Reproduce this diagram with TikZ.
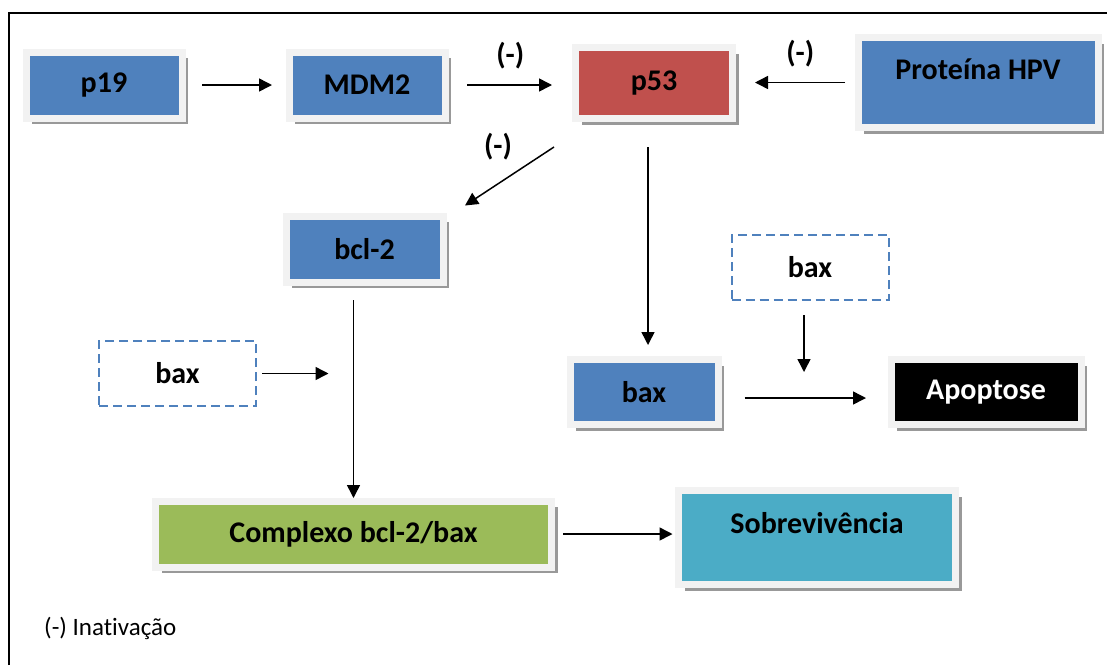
\documentclass[tikz,border=0pt]{standalone}
\usepackage{fontspec}
\setmainfont[Ligatures=NoCommon]{Carlito}
\usepackage{tikz}
\usetikzlibrary{arrows.meta,shadows,positioning}
\definecolor{boxblue}{HTML}{4F81BD}
\definecolor{boxred}{HTML}{C0504D}
\definecolor{boxgreen}{HTML}{9BBB59}
\definecolor{boxteal}{HTML}{4BACC6}
\newcommand\bxfont{\fontsize{30}{35}\selectfont\bfseries}
\newcommand\lgfont{\fontsize{25}{30}\selectfont}

\begin{document}
\begin{tikzpicture}[
  x=1pt, y=-1pt,
  cbox/.style={rectangle, fill=#1, draw=black!5, line width=7pt, outer sep=0pt,
               drop shadow={shadow xshift=6pt, shadow yshift=-6pt, fill=black!40, opacity=1},
               minimum width=156pt, minimum height=66pt, font=\bxfont},
  dbox/.style={rectangle, draw=boxblue, line width=2pt, dash pattern=on 9pt off 5pt,
               outer sep=0pt, minimum width=157pt, minimum height=65pt, font=\bxfont},
  arr/.style={-{Triangle[length=13pt,width=13pt]}, line width=1.5pt},
  lbl/.style={font=\bxfont, inner sep=0pt}
]
\useasboundingbox (0,0) rectangle (1107,665);

%% Frame
\draw[line width=1.8pt] (9,665) -- (9,13) -- (1107,13);

%% Top row
\node[cbox=boxblue] (p19) at (104,85) {p19};
\node[cbox=boxblue] (mdm) at (367,85) {MDM2};
\node[cbox=boxred, minimum width=157pt, minimum height=71pt] (p53) at (654,83) {p53};
\node[cbox=boxblue, minimum width=240pt, minimum height=90pt, text depth=26pt] (hpv) at (978,82.5) {Proteína HPV};

%% Middle
\node[cbox=boxblue, minimum width=157pt] (bcl) at (364.5,249) {bcl-2};
\node[dbox] (baxl) at (177.5,373.5) {bax};
\node[dbox] (baxr) at (810,267.5) {bax};
\node[cbox=boxblue, minimum width=148pt, minimum height=65pt] (bax) at (644,392) {bax};
\node[cbox=black, text=white, minimum width=190pt, minimum height=65pt] (apop) at (986,392) {Apoptose};

%% Bottom
\node[cbox=boxgreen, minimum width=396pt] (cplx) at (353.5,534) {Complexo bcl-2/bax};
\node[cbox=boxteal, minimum width=277pt, minimum height=94pt, text depth=30pt] (sobr) at (817,537.5) {Sobrevivência};

%% Arrows
\draw[arr, shorten <=20pt, shorten >=17pt] (p19) -- (mdm);
\draw[arr, shorten <=22pt, shorten >=23.5pt] (mdm.east) -- (mdm.east -| p53.west)
  node[lbl, midway, above=15pt] {(-)};
\draw[arr, shorten <=13pt, shorten >=22.5pt] (hpv.west) -- (hpv.west -| p53.east)
  node[lbl, midway, above=15pt, xshift=5pt] {(-)};
\draw[arr] ([xshift=-21.5pt, yshift=-28.5pt]p53.south west) -- ([xshift=22pt, yshift=10.5pt]bcl.north east)
  node[lbl, midway, above=15pt, xshift=-11.5pt] {(-)};
\draw[arr, shorten <=28.5pt, shorten >=14.5pt] ([xshift=-6pt]p53.south) -- ([xshift=-6pt]p53.south |- bax.north);
\draw[arr, shorten <=18pt, shorten >=3pt] (bcl.south -| cplx.north) -- (cplx.north);
\draw[arr, shorten <=6pt, shorten >=25pt] (baxl.east) -- (baxl.east -| cplx.north);
\draw[arr, shorten <=15pt, shorten >=20pt] ([xshift=-6pt]baxr.south) -- ([xshift=-6pt]baxr.south |- bax.east);
\draw[arr, shorten <=26.5pt, shorten >=25pt] ([yshift=-6pt]bax.east) -- ([yshift=-6pt]apop.west);
\draw[arr, shorten <=11.5pt, shorten >=6pt] (cplx.east) -- (cplx.east -| sobr.west);

%% Legend
\node[font=\lgfont, anchor=west, inner sep=0pt] (legend) at (44,628) {(-) Inativação};

\end{tikzpicture}
\end{document}
